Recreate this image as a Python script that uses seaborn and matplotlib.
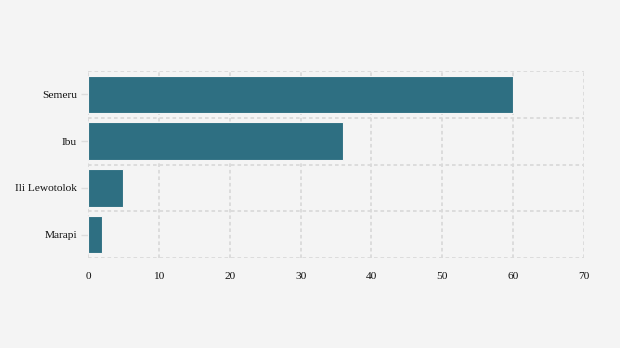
import matplotlib
matplotlib.use("Agg")
import matplotlib.pyplot as plt
import seaborn as sns
import pandas as pd
import numpy as np

categories = ["Semeru", "Ibu", "Ili Lewotolok", "Marapi"]
values = [60, 36, 5, 2]
xticks = [0, 10, 20, 30, 40, 50, 60, 70]

sns.set_theme(style="white")
plt.rcParams['font.family'] = ['Liberation Serif', 'DejaVu Serif']

bg = "#f4f4f4"
fig = plt.figure(figsize=(6.2, 3.48), dpi=100, facecolor=bg)
ax = fig.add_axes([88/620, 1-258/348, 496/620, 187/348])
ax.set_facecolor(bg)

df = pd.DataFrame({"name": categories, "value": values})
sns.barplot(data=df, x="value", y="name", orient="h", color="#2e6f82", saturation=1,
            width=0.8, edgecolor="#f4f4f4", linewidth=0.8, ax=ax, zorder=3)

ax.set_xlim(0, 70)
ax.set_ylim(len(categories) - 0.5, -0.5)
ax.set_xticks(xticks)
ax.set_xticklabels([str(t) for t in xticks])
ax.set_yticks(range(len(categories)))
ax.set_yticks(np.arange(-0.5, len(categories), 1.0), minor=True)
ax.set_xlabel("")
ax.set_ylabel("")

for s in ax.spines.values():
    s.set_visible(False)

ax.grid(True, axis="x", which="major", color="#dadada", linestyle=(0, (2, 1.6)), linewidth=1.3, zorder=0)
ax.grid(True, axis="y", which="minor", color="#dadada", linestyle=(0, (2, 1.6)), linewidth=1.3, zorder=0)
ax.grid(False, axis="y", which="major")
ax.set_axisbelow(True)

ax.tick_params(axis="y", which="major", length=5, width=1, color="#dddddd", labelsize=8.2, labelcolor="#111111", pad=3, left=True)
ax.tick_params(axis="y", which="minor", length=0)
ax.tick_params(axis="x", which="major", length=0, labelsize=8.2, labelcolor="#111111", pad=10)

fig.savefig("out.png", dpi=100, facecolor=bg)
